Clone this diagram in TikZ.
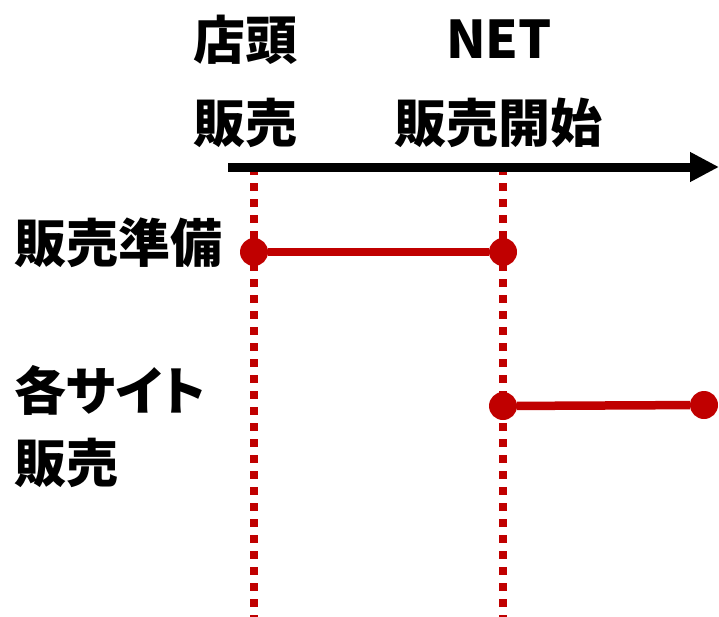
\documentclass[tikz,border=0pt]{standalone}
\usepackage{fontspec}
\setmainfont{Noto Sans CJK JP}
\usetikzlibrary{arrows.meta}
\definecolor{tred}{HTML}{C00000}
\tikzset{
  lbl/.style={inner sep=0pt, font=\fontsize{52}{60}\selectfont\bfseries},
  guide/.style={draw=tred, line width=8pt, dash pattern=on 8pt off 8pt},
  dot/.style={circle, fill=tred, inner sep=0pt, minimum size=28pt},
  span/.style={draw=tred, line width=8.5pt},
  axis/.style={draw=black, line width=9pt, -{Triangle[length=29pt,width=28pt]}}
}
\begin{document}
\begin{tikzpicture}[x=1pt,y=-1pt]
\useasboundingbox (0,0) rectangle (719,616);
% labels
\node[lbl] (tentou) at (245,40) {店頭};
\node[lbl] (tentouB) at (245,123) {販売};
\node[lbl] (net) at (499,39) {NET};
\node[lbl] (netB) at (498,123) {販売開始};
\node[lbl, anchor=west] (junbi) at (14,243) {販売準備};
\node[lbl, anchor=west] (site) at (14,390) {\addfontfeature{RawFeature=+palt}各サイト};
\node[lbl, anchor=west] (siteB) at (14,463) {販売};
% guide lines
\coordinate (g1t) at (254,167);
\coordinate (g1b) at (254,630);
\coordinate (g2t) at (503,167);
\coordinate (g2b) at (503,630);
\draw[guide] (g1t) -- (g1b);
\draw[guide] (g2t) -- (g2b);
% axis
\coordinate (axs) at (228,167);
\coordinate (axe) at (719,167);
\draw[axis] (axs) -- (axe);
% spans
\node[dot] (a1) at (254,252) {};
\node[dot] (a2) at (503,252) {};
\node[dot] (b1) at (503,406) {};
\node[dot] (b2) at (704,405) {};
\draw[span] (a1) -- (a2);
\draw[span] (b1) -- (b2);
\end{tikzpicture}
\end{document}
